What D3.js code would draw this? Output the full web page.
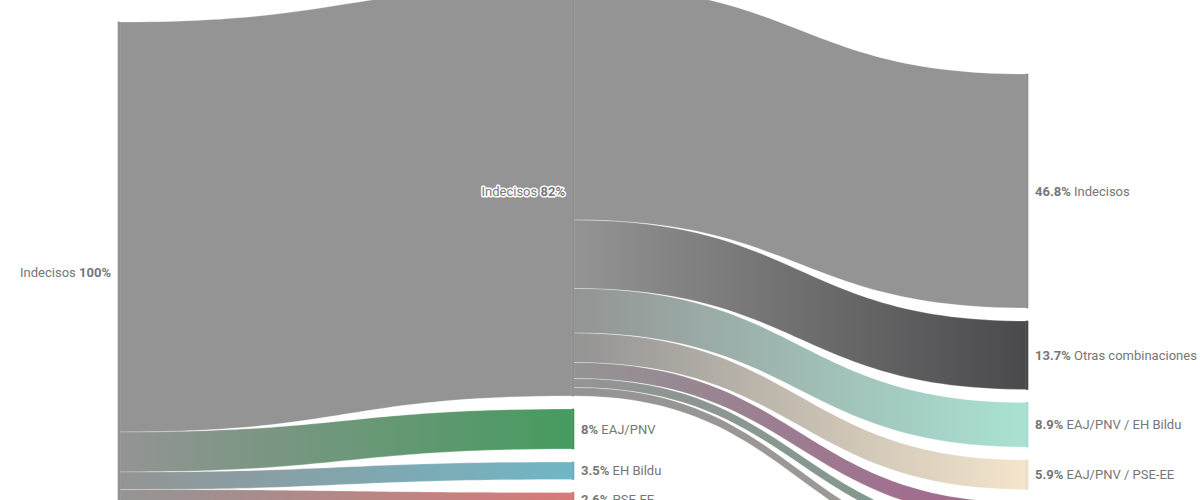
<!DOCTYPE html>
<html><head><meta charset="utf-8">
<script src="https://cdn.jsdelivr.net/npm/d3@7"></script>
<style>
body{margin:0;background:#fff;overflow:hidden;}
svg{display:block;font-family:Roboto,"Noto Sans",sans-serif;}
</style>
</head><body>
<svg id="chart" width="1200" height="500"></svg>
<script>
// ---- data ----
const nodeIds     = ["ind0","ind1","pnv","bildu","pse","pp","sumar","podemos",
                     "ind2","otras","pnvBildu","pnvPse","bilduPse","pnvPp","psePp"];
const nodeLabels  = ["Indecisos","Indecisos","EAJ/PNV","EH Bildu","PSE-EE","PP","Sumar","Elkarrekin Podemos",
                     "Indecisos","Otras combinaciones","EAJ/PNV / EH Bildu","EAJ/PNV / PSE-EE",
                     "EH Bildu / PSE-EE","EAJ/PNV / PP","PSE-EE / PP"];
const nodeColumns = [0,1,1,1,1,1,1,1,2,2,2,2,2,2,2];
const nodeColors  = ["#949494","#949494","#469b5f","#70b6c5","#d77a78","#3b7dbf","#e0517a","#7b4b8e",
                     "#949494","#4a4a4c","#a9e2d3","#f4e5cc","#a5628c","#7a9a8d","#a39b95"];
const linkSources = ["ind0","ind0","ind0","ind0","ind0","ind0","ind0",
                     "ind1","ind1","ind1","ind1","ind1","ind1","ind1"];
const linkTargets = ["ind1","pnv","bildu","pse","pp","sumar","podemos",
                     "ind2","otras","pnvBildu","pnvPse","bilduPse","pnvPp","psePp"];
const linkValues  = [82,8,3.5,2.6,1.9,1.2,0.8,
                     46.8,13.7,8.9,5.9,3.2,1.8,1.7];

// ---- layout config ----
const colTops = [22,-14,74];   // vertical offset of each column (layout)
const nodeGap = 13, nodeW = 2;
const x = d3.scaleLinear().domain([0,2]).range([118,1026]);
const h = d3.scaleLinear().domain([0,100]).range([0,500]);

const nodes = nodeIds.map((id,i)=>({id,i,label:nodeLabels[i],col:nodeColumns[i],color:nodeColors[i],
  inL:[],outL:[]}));
const byId = new Map(nodes.map(n=>[n.id,n]));
const links = linkSources.map((s,i)=>({source:byId.get(s),target:byId.get(linkTargets[i]),value:linkValues[i],i}));
links.forEach(l=>{l.source.outL.push(l);l.target.inL.push(l);});
nodes.forEach(n=>{
  n.value = Math.max(d3.sum(n.inL,l=>l.value), d3.sum(n.outL,l=>l.value));
  n.x0 = x(n.col); n.x1 = n.x0 + nodeW;
});
d3.groups(nodes,n=>n.col).forEach(([c,arr])=>{
  let y = colTops[c];
  arr.forEach(n=>{n.y0=y;n.y1=y+h(n.value);y=n.y1+nodeGap;});
});
nodes.forEach(n=>{
  let y=n.y0; n.outL.sort((a,b)=>a.target.y0-b.target.y0).forEach(l=>{l.sy0=y;y+=h(l.value);l.sy1=y;});
  y=n.y0; n.inL.sort((a,b)=>a.source.y0-b.source.y0).forEach(l=>{l.ty0=y;y+=h(l.value);l.ty1=y;});
});

const svg = d3.select("#chart");
const defs = svg.append("defs");
links.forEach(l=>{
  const g = defs.append("linearGradient").attr("id","lg"+l.i)
    .attr("gradientUnits","userSpaceOnUse")
    .attr("x1",l.source.x1).attr("x2",l.target.x0).attr("y1",0).attr("y2",0);
  g.append("stop").attr("offset","0%").attr("stop-color",l.source.color);
  g.append("stop").attr("offset","100%").attr("stop-color",l.target.color);
});

function band(l){
  const x0=l.source.x1, x1=l.target.x0, xm=(x0+x1)/2;
  return `M${x0},${l.sy0}C${xm},${l.sy0} ${xm},${l.ty0} ${x1},${l.ty0}`+
         `L${x1},${l.ty1}C${xm},${l.ty1} ${xm},${l.sy1} ${x0},${l.sy1}Z`;
}

svg.append("g").selectAll("path").data(links).join("path")
  .attr("d",band)
  .attr("fill",l=>`url(#lg${l.i})`)
  .attr("stroke","#fff").attr("stroke-opacity",0.45).attr("stroke-width",0.6);

svg.append("g").selectAll("rect").data(nodes).join("rect")
  .attr("x",n=>n.x0).attr("y",n=>n.y0)
  .attr("width",nodeW).attr("height",n=>n.y1-n.y0)
  .attr("fill",n=>n.color)
  .attr("stroke",n=>d3.color(n.color).darker(0.25)).attr("stroke-width",0.6);

const fmt = v => String(+v.toFixed(1)) + "%";
const lab = svg.append("g").attr("font-size",13).attr("fill","#767676");
nodes.forEach(n=>{
  const left = n.outL.length>0;
  const t = lab.append("text")
    .attr("x", left ? n.x0-7 : n.x1+7)
    .attr("y",(n.y0+n.y1)/2).attr("dy","0.35em")
    .attr("text-anchor", left ? "end" : "start");
  if(left){
    t.attr("stroke","#fff").attr("stroke-width",3).attr("stroke-linejoin","round").attr("paint-order","stroke");
    t.append("tspan").text(n.label+" ");
    t.append("tspan").attr("font-weight",700).text(fmt(n.value));
  } else {
    t.append("tspan").attr("font-weight",700).text(fmt(n.value));
    t.append("tspan").text(" "+n.label);
  }
});
</script>
</body></html>
